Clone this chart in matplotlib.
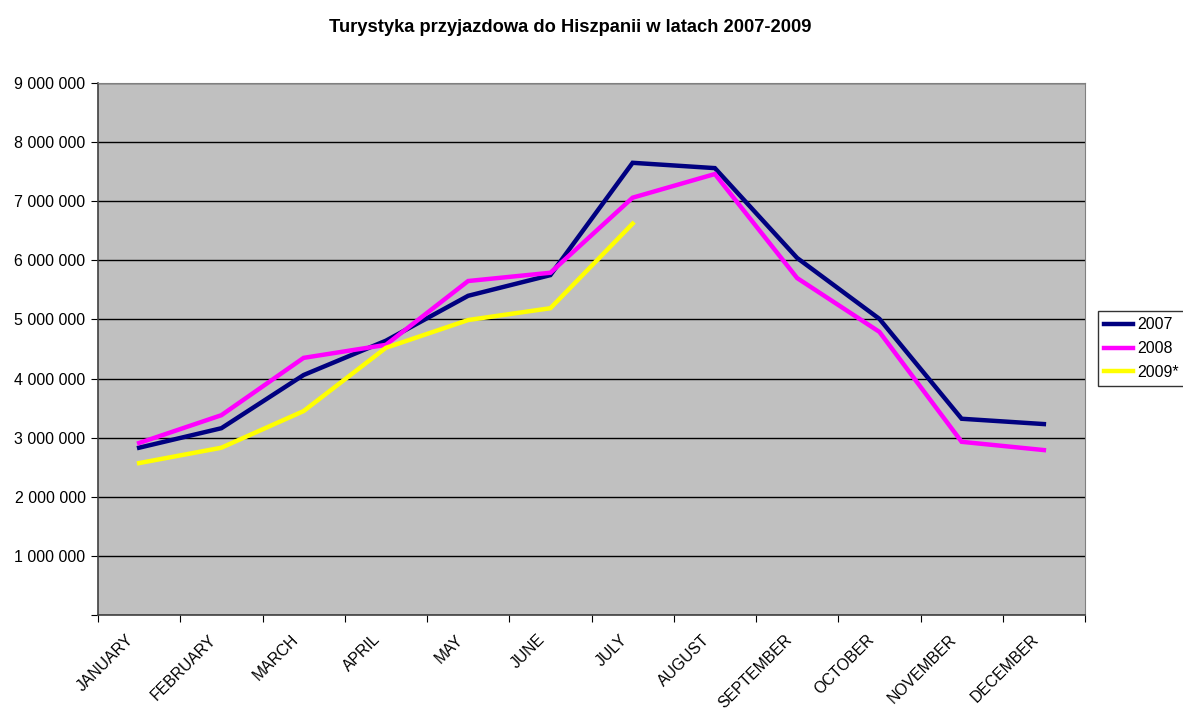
import numpy as np
import matplotlib.pyplot as plt
import matplotlib.transforms as mtransforms
from matplotlib.ticker import FuncFormatter

plt.rcParams['font.family'] = ['Liberation Sans', 'DejaVu Sans']

months = ['JANUARY', 'FEBRUARY', 'MARCH', 'APRIL', 'MAY', 'JUNE', 'JULY',
          'AUGUST', 'SEPTEMBER', 'OCTOBER', 'NOVEMBER', 'DECEMBER']

y2007 = [2830000, 3160000, 4060000, 4640000, 5400000, 5750000, 7650000,
         7560000, 6040000, 5010000, 3320000, 3230000]
y2008 = [2910000, 3380000, 4350000, 4570000, 5650000, 5790000, 7060000,
         7460000, 5700000, 4790000, 2930000, 2790000]
y2009 = [2570000, 2830000, 3450000, 4520000, 4990000, 5190000, 6620000]

fig = plt.figure(figsize=(11.83, 7.11), dpi=100)
ax = fig.add_axes([98/1183, 1 - 615/711, (1085-98)/1183, (615-83)/711])
ax.set_facecolor('#C0C0C0')

x = np.arange(len(months))
ax.plot(x, y2007, color='#000080', lw=3.2, label='2007', solid_joinstyle='miter')
ax.plot(x, y2008, color='#FF00FF', lw=3.2, label='2008', solid_joinstyle='miter')
ax.plot(x[:len(y2009)], y2009, color='#FFFF00', lw=3.2, label='2009*', solid_joinstyle='miter')

ax.set_xlim(-0.5, 11.5)
ax.set_ylim(0, 9000000)
ax.set_yticks(np.arange(0, 9000001, 1000000))
ax.yaxis.set_major_formatter(FuncFormatter(
    lambda v, p: '' if v == 0 else f'{int(v):,}'.replace(',', ' ')))
ax.yaxis.grid(True, color='black', lw=1)
ax.set_axisbelow(True)

ax.set_xticks(np.arange(-0.5, 12, 1))
ax.set_xticklabels([])
ax.set_xticks(x, minor=True)
ax.set_xticklabels(months, minor=True, rotation=45, ha='right',
                   rotation_mode='anchor', fontsize=11.3)
ax.tick_params(axis='x', which='minor', length=0, pad=10)
ax.tick_params(axis='x', which='major', length=5, direction='out', color='black')
ax.tick_params(axis='y', length=5, direction='out', labelsize=11.5, pad=4)
shift = mtransforms.ScaledTranslation(-0.13, -0.03, fig.dpi_scale_trans)
for lbl in ax.get_xticklabels(minor=True):
    lbl.set_transform(lbl.get_transform() + shift)

for s in ['top', 'right']:
    ax.spines[s].set_color('#808080')
for s in ['left', 'bottom']:
    ax.spines[s].set_color('#404040')
    ax.spines[s].set_linewidth(1.2)

fig.text(570/1183, 1 - 27/711, 'Turystyka przyjazdowa do Hiszpanii w latach 2007-2009',
         ha='center', va='center', fontsize=13.2, fontweight='bold')

leg = fig.legend(loc='upper left', bbox_to_anchor=(1098/1183, 1 - 311/711),
                 fontsize=11.5, frameon=True, fancybox=False, handlelength=1.8,
                 handletextpad=0.25, borderpad=0.4, labelspacing=0.55, borderaxespad=0)
leg.get_frame().set_edgecolor('black')
leg.get_frame().set_linewidth(1)

fig.savefig('out.png', dpi=100)
